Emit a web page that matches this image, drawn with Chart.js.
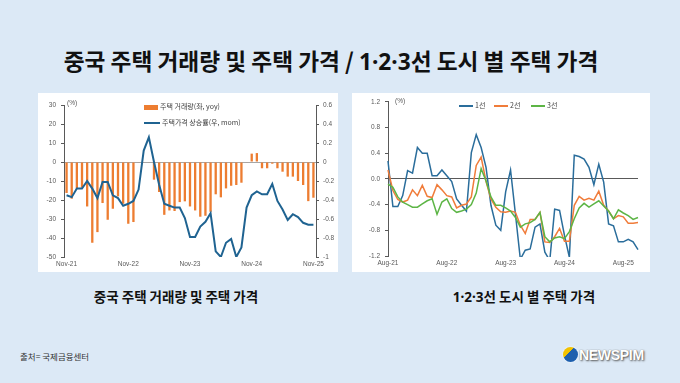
<!DOCTYPE html>
<html>
<head>
<meta charset="utf-8">
<script src="https://cdn.jsdelivr.net/npm/chart.js@4.4.1/dist/chart.umd.min.js"></script>
<style>
body { margin:0; width:680px; height:383px; background:#dce9f6; position:relative; overflow:hidden;
       font-family:"Noto Sans CJK KR", "Noto Sans", sans-serif; }
.abs { position:absolute; }
.panel { background:#fff; }
.dots { font-family:"Noto Sans", sans-serif; }
#title { left:-9px; width:680px; top:46px; text-align:center; font-size:22.7px; font-weight:bold; color:#111; line-height:30px; }
.cap { font-size:13.5px; font-weight:bold; color:#111; text-align:center; line-height:18px; }
.lg { font-size:7px; color:#404040; line-height:10px; white-space:nowrap; }
.sw { display:inline-block; vertical-align:middle; margin-right:2px; }
.unit { font-family:"Liberation Sans", sans-serif; font-size:6.5px; color:#595959; }
#src { left:20px; top:350px; font-size:8.5px; color:#333; }
#logo { left:563px; top:345px; width:90px; height:22px; }
#logo .dot { position:absolute; left:0; top:2px; width:15px; height:15px; border-radius:50%;
  background:linear-gradient(135deg,#f2c200 0 38%,#1d5fae 38% 100%); box-shadow:0 0 2px #fff; }
#logo .txt { position:absolute; left:16px; top:0; font-family:"Liberation Sans", sans-serif; font-weight:bold;
  font-size:14px; color:#fff; letter-spacing:-0.3px; text-shadow:1px 1px 2px #555, 0 0 1px #777; line-height:20px; }
</style>
</head>
<body>
<div id="title" class="abs">중국 주택 거래량 및 주택 가격 / <span class="dots">1·2·3</span>선 도시 별 주택 가격</div>

<div class="abs panel" style="left:38px;top:93px;width:300px;height:179px;"></div>
<div class="abs panel" style="left:352px;top:93px;width:298px;height:179px;"></div>

<canvas id="c1" class="abs" width="310" height="180" style="left:30px;top:95px;"></canvas>
<canvas id="c2" class="abs" width="295" height="180" style="left:355px;top:93px;"></canvas>

<div class="abs unit" style="left:67px;top:99px;">(%)</div>
<div class="abs unit" style="left:395px;top:97px;">(%)</div>

<div class="abs lg" style="left:144px;top:101px;"><span class="sw" style="width:14px;height:5px;background:#ED7D31;"></span>주택 거래량(좌, yoy)</div>
<div class="abs lg" style="left:144px;top:117px;"><span class="sw" style="width:16px;height:2px;background:#1F6391;"></span>주택가격 상승률(우, mom)</div>

<div class="abs lg" style="left:459px;top:100px;"><span class="sw" style="width:14px;height:1.5px;background:#2A6D9B;"></span>1선</div>
<div class="abs lg" style="left:494px;top:100px;"><span class="sw" style="width:14px;height:1.5px;background:#F07C3A;"></span>2선</div>
<div class="abs lg" style="left:531px;top:100px;"><span class="sw" style="width:14px;height:1.5px;background:#5DB546;"></span>3선</div>

<div class="abs cap" style="left:76px;width:200px;top:287px;">중국 주택 거래량 및 주택 가격</div>
<div class="abs cap" style="left:424px;width:200px;top:287px;"><span class="dots">1·2·3</span>선 도시 별 주택 가격</div>

<div id="src" class="abs">출처= 국제금융센터</div>
<div id="logo" class="abs"><div class="dot"></div><div class="txt">NEWSPIM</div></div>

<script>
// left chart: housing sales (yoy, %) and price change (mom, %)
var months1 = ['Nov-21','Dec-21',
  'Jan-22','Feb-22','Mar-22','Apr-22','May-22','Jun-22','Jul-22','Aug-22','Sep-22','Oct-22','Nov-22','Dec-22',
  'Jan-23','Feb-23','Mar-23','Apr-23','May-23','Jun-23','Jul-23','Aug-23','Sep-23','Oct-23','Nov-23','Dec-23',
  'Jan-24','Feb-24','Mar-24','Apr-24','May-24','Jun-24','Jul-24','Aug-24','Sep-24','Oct-24','Nov-24','Dec-24',
  'Jan-25','Feb-25','Mar-25','Apr-25','May-25','Jun-25','Jul-25','Aug-25','Sep-25','Oct-25','Nov-25'];
var salesYoY = [-16.3, -19.3, -14, -13.5, -23.4, -42.5, -36.9, -21.6, -30.4, -24.6, -18.1, -22, -32.5,
  -31.6, -0.3, -0.3, -0.3, -9.3, -15.8, -27.8, -25.5, -25.8, -21.1, -20.7, -23.4, -25.5, -28.8,
  -28.3, -26.2, -17, -18.6, -13.9, -12.5, -12.1, -10.9, -0.3, 4.4, 4.7, -3.3, -3.3, -0.9,
  -3.3, -5.1, -7.7, -7.7, -10, -12.1, -20.6, -18.8];
var priceMoM = [-0.35, -0.37, -0.28, -0.28, -0.20, -0.28, -0.38, -0.21, -0.21, -0.35, -0.38, -0.46, -0.44,
  -0.41, -0.29, 0.12, 0.26, 0.0, -0.24, -0.44, -0.46, -0.48, -0.48, -0.59, -0.79, -0.79, -0.68,
  -0.63, -0.54, -0.94, -1.0, -0.85, -0.81, -1.0, -0.9, -0.48, -0.35, -0.31, -0.34, -0.34, -0.23,
  -0.41, -0.50, -0.61, -0.55, -0.58, -0.64, -0.66, -0.66];
var ticks1 = ['Nov-21','Nov-22','Nov-23','Nov-24','Nov-25'];

// right chart: tier 1/2/3 city prices (mom, %)
var months2 = ['Aug-21','Sep-21','Oct-21','Nov-21','Dec-21',
  'Jan-22','Feb-22','Mar-22','Apr-22','May-22','Jun-22','Jul-22','Aug-22','Sep-22','Oct-22','Nov-22','Dec-22',
  'Jan-23','Feb-23','Mar-23','Apr-23','May-23','Jun-23','Jul-23','Aug-23','Sep-23','Oct-23','Nov-23','Dec-23',
  'Jan-24','Feb-24','Mar-24','Apr-24','May-24','Jun-24','Jul-24','Aug-24','Sep-24','Oct-24','Nov-24','Dec-24',
  'Jan-25','Feb-25','Mar-25','Apr-25','May-25','Jun-25','Jul-25','Aug-25','Sep-25','Oct-25','Nov-25'];
var tier1 = [0.28, -0.43, -0.43, -0.26, 0.13, 0.09, 0.49, 0.40, 0.40, 0.05, 0.05, 0.14, 0.05,
  -0.04, -0.31, -0.41, -0.50, 0.41, 0.69, 0.49, 0.18, -0.41, -0.72, -0.80, -0.20, 0.14,
  -0.55, -1.25, -1.11, -1.09, -0.75, -0.70, -1.14, -1.27, -0.47, -0.49, -0.88, -1.22, 0.37,
  0.35, 0.31, 0.18, -0.09, 0.23, -0.05, -0.70, -0.73, -0.98, -0.98, -0.94, -0.98, -1.10];
var tier2 = [0.14, -0.18, -0.32, -0.36, -0.33, -0.17, -0.26, -0.10, -0.27, -0.29, -0.09, -0.17, -0.26,
  -0.28, -0.45, -0.41, -0.39, -0.28, 0.21, 0.34, -0.04, -0.31, -0.44, -0.51, -0.52, -0.50,
  -0.52, -0.72, -0.85, -0.63, -0.63, -0.52, -0.98, -0.99, -0.90, -0.77, -0.97, -0.97, -0.41,
  -0.27, -0.33, -0.30, -0.33, -0.19, -0.41, -0.50, -0.62, -0.57, -0.59, -0.69, -0.69, -0.68];
var tier3 = [-0.08, -0.13, -0.28, -0.36, -0.40, -0.44, -0.44, -0.39, -0.34, -0.31, -0.55, -0.36, -0.31,
  -0.46, -0.52, -0.50, -0.47, -0.40, -0.22, 0.16, -0.03, -0.28, -0.41, -0.41, -0.45, -0.50,
  -0.60, -0.75, -0.70, -0.68, -0.63, -0.52, -0.90, -0.98, -0.92, -0.90, -0.93, -0.82, -0.62,
  -0.45, -0.38, -0.44, -0.39, -0.34, -0.42, -0.50, -0.62, -0.48, -0.53, -0.57, -0.63, -0.60];
var ticks2 = ['Aug-21','Aug-22','Aug-23','Aug-24','Aug-25'];

var axisColor = '#595959';
var tickFont = { family: 'Liberation Sans', size: 6.5 };

function fixWidth(w) { return function(s) { s.width = w; }; }
function fixHeight(h) { return function(s) { s.height = h; }; }

new Chart(document.getElementById('c1'), {
  type: 'bar',
  data: {
    labels: months1,
    datasets: [{
      type: 'line', label: '주택가격 상승률(우, mom)', data: priceMoM, yAxisID: 'y2',
      borderColor: '#1F6391', borderWidth: 2, pointRadius: 0, tension: 0, order: 0
    }, {
      type: 'bar', label: '주택 거래량(좌, yoy)', data: salesYoY, yAxisID: 'y',
      backgroundColor: '#ED7D31', borderWidth: 0, barPercentage: 0.45, categoryPercentage: 1, order: 1
    }]
  },
  options: {
    responsive: false, animation: false,
    layout: { padding: { top: 10, left: 0, right: 0, bottom: 0 } },
    plugins: { legend: { display: false }, tooltip: { enabled: false } },
    scales: {
      x: {
        afterFit: fixHeight(18),
        grid: { display: false, drawTicks: false }, border: { display: false },
        ticks: {
          autoSkip: false, maxRotation: 0, padding: 3, color: axisColor, font: tickFont,
          callback: function(v) { var l = this.getLabelForValue(v); return ticks1.indexOf(l) >= 0 ? l : ''; }
        }
      },
      y: {
        position: 'left', min: -50, max: 30, afterFit: fixWidth(34),
        ticks: { stepSize: 10, color: axisColor, font: tickFont, padding: 5 },
        grid: {
          color: function(c) { return c.tick && c.tick.value === 0 ? '#a6a6a6' : 'rgba(0,0,0,0)'; },
          tickColor: axisColor, tickLength: 3
        },
        border: { display: true, color: axisColor }
      },
      y2: {
        position: 'right', min: -1, max: 0.6, afterFit: fixWidth(24),
        ticks: {
          stepSize: 0.2, color: axisColor, font: tickFont, padding: 4,
          callback: function(v) { return String(Math.round(v * 10) / 10); }
        },
        grid: { drawOnChartArea: false, tickColor: axisColor, tickLength: 3 },
        border: { display: true, color: axisColor }
      }
    }
  }
});

new Chart(document.getElementById('c2'), {
  type: 'line',
  data: {
    labels: months2,
    datasets: [
      { label: '1선', data: tier1, borderColor: '#2A6D9B', borderWidth: 1.5, pointRadius: 0, order: 2, clip: 1 },
      { label: '2선', data: tier2, borderColor: '#F07C3A', borderWidth: 1.5, pointRadius: 0, order: 1, clip: 1 },
      { label: '3선', data: tier3, borderColor: '#5DB546', borderWidth: 1.5, pointRadius: 0, order: 0, clip: 1 }
    ]
  },
  options: {
    responsive: false, animation: false,
    layout: { padding: { top: 8, left: 0, right: 12, bottom: 0 } },
    plugins: { legend: { display: false }, tooltip: { enabled: false } },
    scales: {
      x: {
        afterFit: fixHeight(17),
        grid: { display: false, drawTicks: false }, border: { display: false },
        ticks: {
          autoSkip: false, maxRotation: 0, padding: 3, color: axisColor, font: tickFont,
          callback: function(v) { var l = this.getLabelForValue(v); return ticks2.indexOf(l) >= 0 ? l : ''; }
        }
      },
      y: {
        min: -1.2, max: 1.2, afterFit: fixWidth(33),
        ticks: {
          stepSize: 0.4, color: axisColor, font: tickFont, padding: 5,
          callback: function(v) { return Math.abs(v) < 1e-9 ? '0.0' : v.toFixed(1); }
        },
        grid: {
          color: function(c) { return c.tick && Math.abs(c.tick.value) < 1e-9 ? '#595959' : 'rgba(0,0,0,0)'; },
          tickColor: axisColor, tickLength: 3
        },
        border: { display: true, color: axisColor }
      }
    }
  }
});
</script>
</body>
</html>
